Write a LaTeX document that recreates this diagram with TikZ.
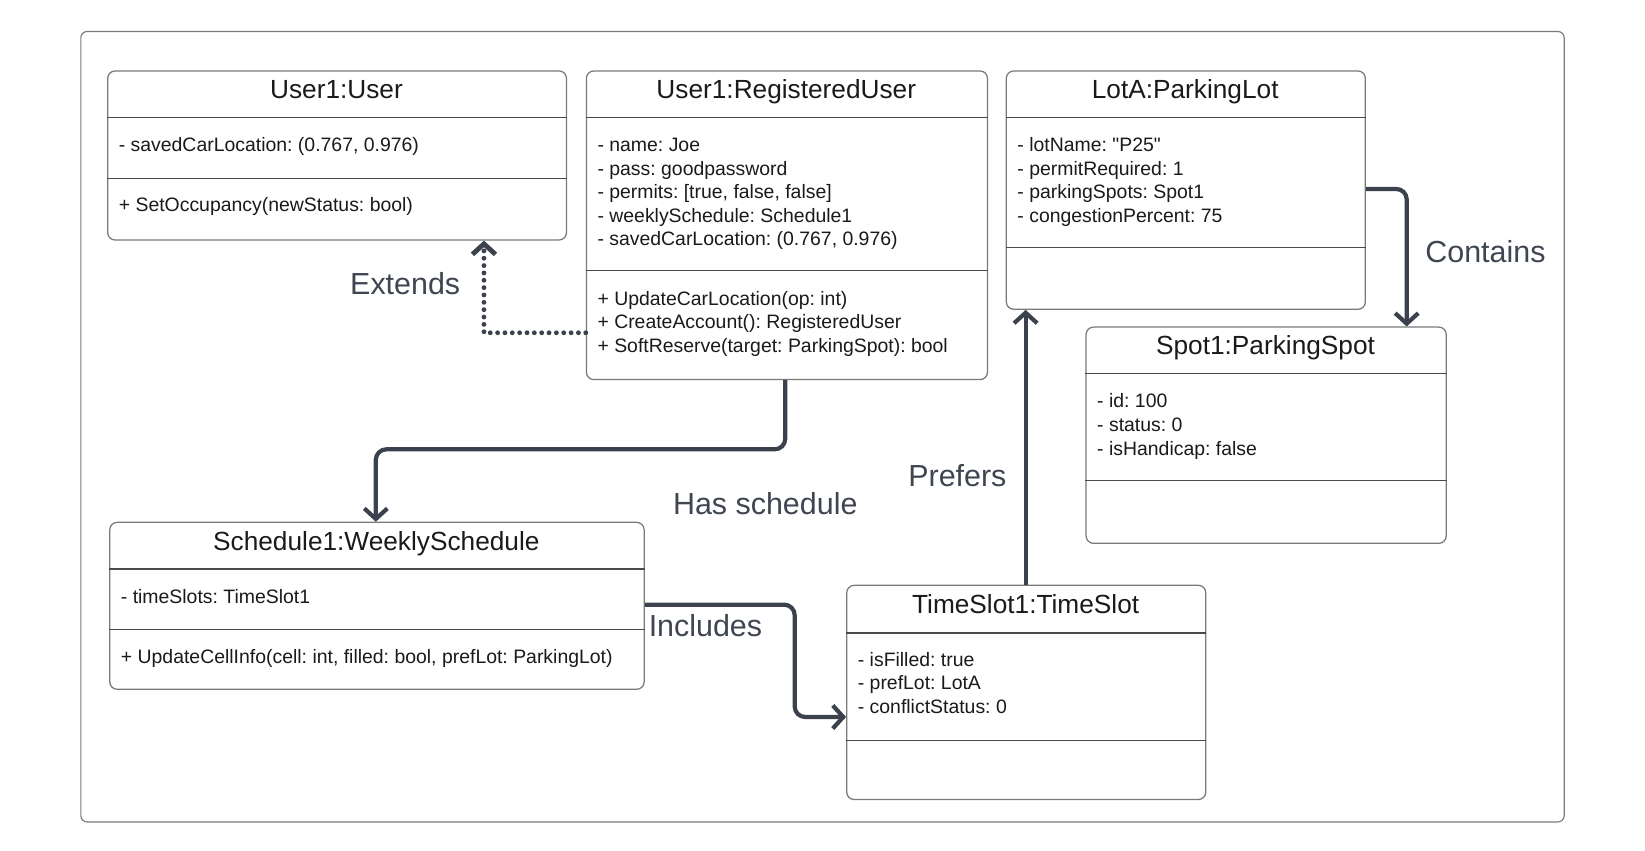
\documentclass[tikz,border=0pt]{standalone}
\usepackage{fontspec}
\setmainfont{Liberation Sans}[Ligatures=TeXOff]
\usetikzlibrary{arrows.meta}
\frenchspacing
\definecolor{connc}{HTML}{3C424D}
\definecolor{boxline}{HTML}{7A7A7A}
\definecolor{sepline}{HTML}{4A4A4A}
\definecolor{lblc}{HTML}{3F4652}
\definecolor{txtc}{HTML}{1A1A1A}
\tikzset{
 umlbox/.style={draw=boxline, line width=1.2pt, rounded corners=7pt, fill=white, inner sep=0pt, anchor=north west},
 sepln/.style={draw=sepline, line width=1pt},
 ttl/.style={anchor=mid, inner sep=0pt, yshift=-5.5pt, font=\fontsize{25}{30}\selectfont, text=txtc},
 attr/.style={anchor=mid west, inner sep=0pt, yshift=-4pt, font=\fontsize{18.5}{22}\selectfont, text=txtc},
 lab/.style={anchor=mid, inner sep=0pt, yshift=-6pt, font=\fontsize{29}{34}\selectfont, text=lblc},
 link/.style={draw=connc, line width=4pt, rounded corners=10pt, -{Straight Barb[length=10pt,width=22pt]}},
 dotlink/.style={draw=connc, line width=4.6pt, line cap=round, dash pattern=on 0pt off 7pt, -{Straight Barb[length=10pt,width=22pt,line width=4.6pt,line cap=butt]}}
}
\begin{document}
\begin{tikzpicture}[x=1pt,y=-1pt]
\useasboundingbox (0,0) rectangle (1567,810);
\draw[draw=boxline, line width=1.1pt, rounded corners=6pt] (77,30) rectangle (1490,783);

% User1:User
\node[umlbox, minimum width=437pt, minimum height=161pt] (uu) at (102,67) {};
\draw[sepln] (uu.west |- 0,112) -- (uu.east |- 0,112);
\draw[sepln] (uu.west |- 0,170) -- (uu.east |- 0,170);
\node[ttl] (uut) at (320.5,86) {User1:User};
\node[attr] (uua) at (113,138) {- savedCarLocation: (0.767, 0.976)};
\node[attr] (uum) at (113,195) {+ SetOccupancy(newStatus: bool)};

% User1:RegisteredUser
\node[umlbox, minimum width=382pt, minimum height=294pt] (ru) at (558,67) {};
\draw[sepln] (ru.west |- 0,112) -- (ru.east |- 0,112);
\draw[sepln] (ru.west |- 0,258) -- (ru.east |- 0,258);
\node[ttl] (rut) at (749,86) {User1:RegisteredUser};
\foreach \t [count=\i] in {{- name: Joe},{- pass: goodpassword},{- permits: [true, false, false]},{- weeklySchedule: Schedule1},{- savedCarLocation: (0.767, 0.976)}}
  \node[attr] (rua\i) at (569,{138+(\i-1)*22.3}) {\t};
\foreach \t [count=\i] in {{+ UpdateCarLocation(op: int)},{+ CreateAccount(): RegisteredUser},{+ SoftReserve(target: ParkingSpot): bool}}
  \node[attr] (rum\i) at (569,{284+(\i-1)*22.5}) {\t};

% LotA:ParkingLot
\node[umlbox, minimum width=342pt, minimum height=227pt] (pl) at (958,67) {};
\draw[sepln] (pl.west |- 0,112) -- (pl.east |- 0,112);
\draw[sepln] (pl.west |- 0,236) -- (pl.east |- 0,236);
\node[ttl] (plt) at (1129,86) {LotA:ParkingLot};
\foreach \t [count=\i] in {{- lotName: "P25"},{- permitRequired: 1},{- parkingSpots: Spot1},{- congestionPercent: 75}}
  \node[attr] (pla\i) at (969,{138+(\i-1)*22.4}) {\t};

% Spot1:ParkingSpot
\node[umlbox, minimum width=343pt, minimum height=206pt] (sp) at (1034,311) {};
\draw[sepln] (sp.west |- 0,356) -- (sp.east |- 0,356);
\draw[sepln] (sp.west |- 0,458) -- (sp.east |- 0,458);
\node[ttl] (spt) at (1205.5,330) {Spot1:ParkingSpot};
\foreach \t [count=\i] in {{- id: 100},{- status: 0},{- isHandicap: false}}
  \node[attr] (spa\i) at (1045,{382+(\i-1)*22.5}) {\t};

% Schedule1:WeeklySchedule
\node[umlbox, minimum width=509pt, minimum height=159pt] (ws) at (104,497) {};
\draw[sepln] (ws.west |- 0,542) -- (ws.east |- 0,542);
\draw[sepln] (ws.west |- 0,600) -- (ws.east |- 0,600);
\node[ttl] (wst) at (358.5,516) {Schedule1:WeeklySchedule};
\node[attr] (wsa) at (115,568) {- timeSlots: TimeSlot1};
\node[attr] (wsm) at (115,625) {+ UpdateCellInfo(cell: int, filled: bool, prefLot: ParkingLot)};

% TimeSlot1:TimeSlot
\node[umlbox, minimum width=342pt, minimum height=204pt] (ts) at (806,557) {};
\draw[sepln] (ts.west |- 0,603) -- (ts.east |- 0,603);
\draw[sepln] (ts.west |- 0,705) -- (ts.east |- 0,705);
\node[ttl] (tst) at (977,576) {TimeSlot1:TimeSlot};
\foreach \t [count=\i] in {{- isFilled: true},{- prefLot: LotA},{- conflictStatus: 0}}
  \node[attr] (tsa\i) at (817,{628+(\i-1)*22.5}) {\t};

% connectors
\draw[dotlink] (ru.west |- 0,317) -| (461,0 |- uu.south);
\draw[link] (748,0 |- ru.south) -- (748,428) -- (358,428) -- (358,0 |- ws.north);
\draw[link] (ws.east |- 0,576) -- (757,576) -- (757,683) -- (ts.west |- 0,683);
\draw[link] (977,0 |- ts.north) -- (977,0 |- pl.south);
\draw[link] (pl.east |- 0,180) -- (1340,180) -- (1340,0 |- sp.north);

% labels
\node[lab] (lext) at (386,272) {Extends};
\node[lab] (lhas) at (729,481) {Has schedule};
\node[lab] (linc) at (672,598) {Includes};
\node[lab] (lpre) at (912,455) {Prefers};
\node[lab] (lcon) at (1415,241) {Contains};
\end{tikzpicture}
\end{document}
